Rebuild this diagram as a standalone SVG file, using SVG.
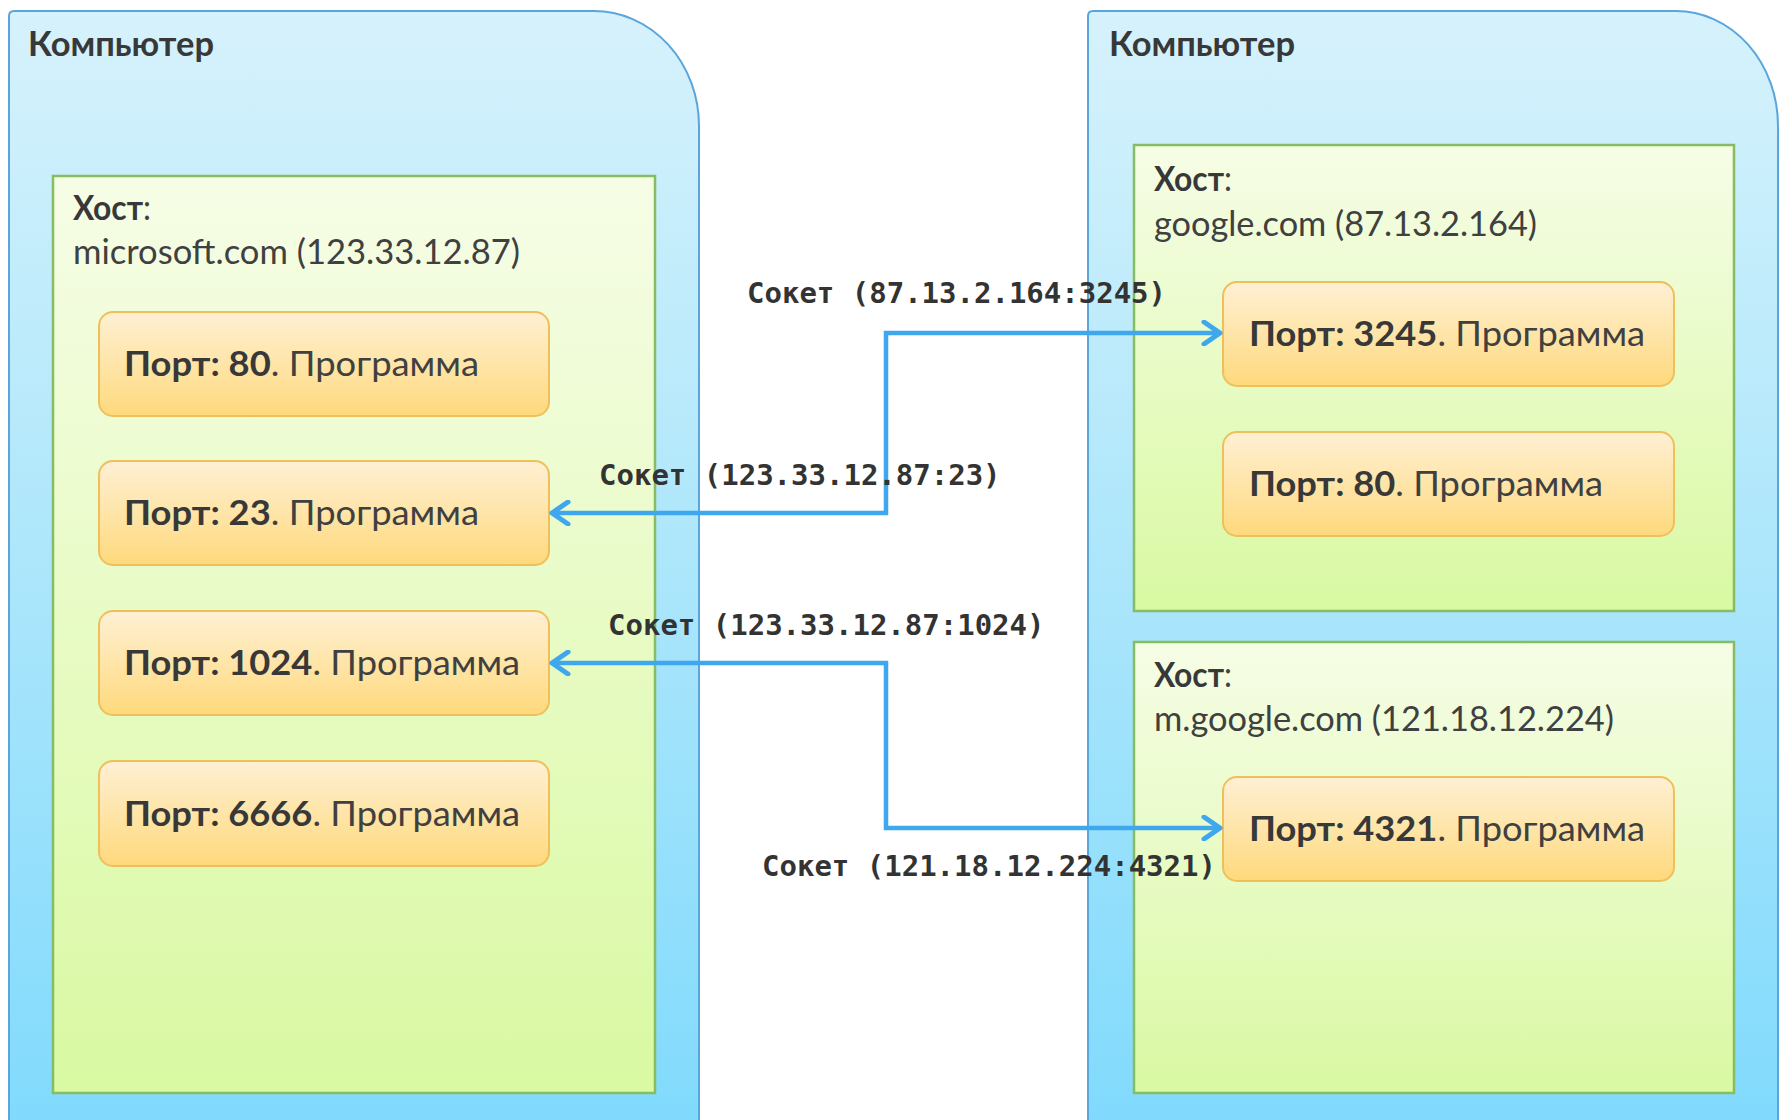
<svg xmlns="http://www.w3.org/2000/svg" width="1781" height="1120" viewBox="0 0 1781 1120">
  <defs>
    <linearGradient id="gComp" x1="0" y1="0" x2="0" y2="1">
      <stop offset="0" stop-color="#d6f2fc"/>
      <stop offset="0.5" stop-color="#ace6fb"/>
      <stop offset="1" stop-color="#80dafd"/>
    </linearGradient>
    <linearGradient id="gHost" x1="0" y1="0" x2="0" y2="1">
      <stop offset="0" stop-color="#f6fde6"/>
      <stop offset="1" stop-color="#d9f9a2"/>
    </linearGradient>
    <linearGradient id="gPort" x1="0" y1="0" x2="0" y2="1">
      <stop offset="0" stop-color="#fff0d4"/>
      <stop offset="1" stop-color="#fed97c"/>
    </linearGradient>
    <marker id="chev" viewBox="0 0 22 26" refX="19" refY="13" markerWidth="22" markerHeight="26" markerUnits="userSpaceOnUse" orient="auto-start-reverse">
      <path d="M3,2 L19,13 L3,24" fill="none" stroke="#3fa7ee" stroke-width="5" stroke-linecap="round" stroke-linejoin="round"/>
    </marker>
  </defs>
  <style>
    .comp { fill: url(#gComp); stroke: #5aa6dc; stroke-width: 2; }
    .host { fill: url(#gHost); stroke: #86bd62; stroke-width: 2.5; }
    .port { fill: url(#gPort); stroke: #efbf5c; stroke-width: 2; }
    .t { font-family: Lato, "Open Sans", sans-serif; font-size: 34px; fill: #404040; }
    .b { font-weight: bold; fill: #383838; }
    .sock { font-family: "DejaVu Sans Mono", "Liberation Mono", monospace; font-size: 29px; font-weight: bold; fill: #333333; }
    .link { fill: none; stroke: #3fa7ee; stroke-width: 4.5; marker-start: url(#chev); marker-end: url(#chev); }
  </style>
  <rect width="1781" height="1120" fill="#ffffff"/>

  <!-- left computer -->
  <g id="computer-left">
    <path class="comp" d="M9,1130 V16 Q9,11 14,11 H594 A105,115 0 0 1 699,126 V1130 Z"/>
    <text class="t b" x="28" y="56" textLength="186" lengthAdjust="spacingAndGlyphs">Компьютер</text>
  </g>
  <g id="host-microsoft">
    <rect class="host" x="53" y="176" width="602" height="917"/>
    <text class="t" x="73" y="220" textLength="78" lengthAdjust="spacingAndGlyphs"><tspan class="b">Хост</tspan>:</text>
    <text class="t" x="73" y="264" textLength="447" lengthAdjust="spacingAndGlyphs">microsoft.com (123.33.12.87)</text>
  </g>
  <g id="port-80-left">
    <rect class="port" x="99" y="312" width="450" height="104" rx="14"/>
    <text class="t" x="124" y="376" textLength="355" lengthAdjust="spacingAndGlyphs"><tspan class="b">Порт: 80</tspan>. Программа</text>
  </g>
  <g id="port-23">
    <rect class="port" x="99" y="461" width="450" height="104" rx="14"/>
    <text class="t" x="124" y="525" textLength="355" lengthAdjust="spacingAndGlyphs"><tspan class="b">Порт: 23</tspan>. Программа</text>
  </g>
  <g id="port-1024">
    <rect class="port" x="99" y="611" width="450" height="104" rx="14"/>
    <text class="t" x="124" y="675" textLength="396" lengthAdjust="spacingAndGlyphs"><tspan class="b">Порт: 1024</tspan>. Программа</text>
  </g>
  <g id="port-6666">
    <rect class="port" x="99" y="761" width="450" height="105" rx="14"/>
    <text class="t" x="124" y="826" textLength="396" lengthAdjust="spacingAndGlyphs"><tspan class="b">Порт: 6666</tspan>. Программа</text>
  </g>

  <!-- right computer -->
  <g id="computer-right">
    <path class="comp" d="M1088,1130 V16 Q1088,11 1093,11 H1676 A102,115 0 0 1 1778,126 V1130 Z"/>
    <text class="t b" x="1109" y="56" textLength="186" lengthAdjust="spacingAndGlyphs">Компьютер</text>
  </g>
  <g id="host-google">
    <rect class="host" x="1134" y="145" width="600" height="466"/>
    <text class="t" x="1154" y="191" textLength="78" lengthAdjust="spacingAndGlyphs"><tspan class="b">Хост</tspan>:</text>
    <text class="t" x="1154" y="236" textLength="383" lengthAdjust="spacingAndGlyphs">google.com (87.13.2.164)</text>
  </g>
  <g id="port-3245">
    <rect class="port" x="1223" y="282" width="451" height="104" rx="14"/>
    <text class="t" x="1249" y="346" textLength="396" lengthAdjust="spacingAndGlyphs"><tspan class="b">Порт: 3245</tspan>. Программа</text>
  </g>
  <g id="port-80-right">
    <rect class="port" x="1223" y="432" width="451" height="104" rx="14"/>
    <text class="t" x="1249" y="496" textLength="354" lengthAdjust="spacingAndGlyphs"><tspan class="b">Порт: 80</tspan>. Программа</text>
  </g>
  <g id="host-mgoogle">
    <rect class="host" x="1134" y="642" width="600" height="451"/>
    <text class="t" x="1154" y="687" textLength="78" lengthAdjust="spacingAndGlyphs"><tspan class="b">Хост</tspan>:</text>
    <text class="t" x="1154" y="731" textLength="460" lengthAdjust="spacingAndGlyphs">m.google.com (121.18.12.224)</text>
  </g>
  <g id="port-4321">
    <rect class="port" x="1223" y="777" width="451" height="104" rx="14"/>
    <text class="t" x="1249" y="841" textLength="396" lengthAdjust="spacingAndGlyphs"><tspan class="b">Порт: 4321</tspan>. Программа</text>
  </g>

  <!-- socket connections -->
  <g id="connectors">
    <path class="link" d="M552,513 H886 V333 H1220"/>
    <path class="link" d="M552,663 H886 V828 H1220"/>
    <text class="sock" x="747" y="303">Сокет (87.13.2.164:3245)</text>
    <text class="sock" x="599" y="485">Сокет (123.33.12.87:23)</text>
    <text class="sock" x="608" y="635">Сокет (123.33.12.87:1024)</text>
    <text class="sock" x="762" y="876">Сокет (121.18.12.224:4321)</text>
  </g>
</svg>
